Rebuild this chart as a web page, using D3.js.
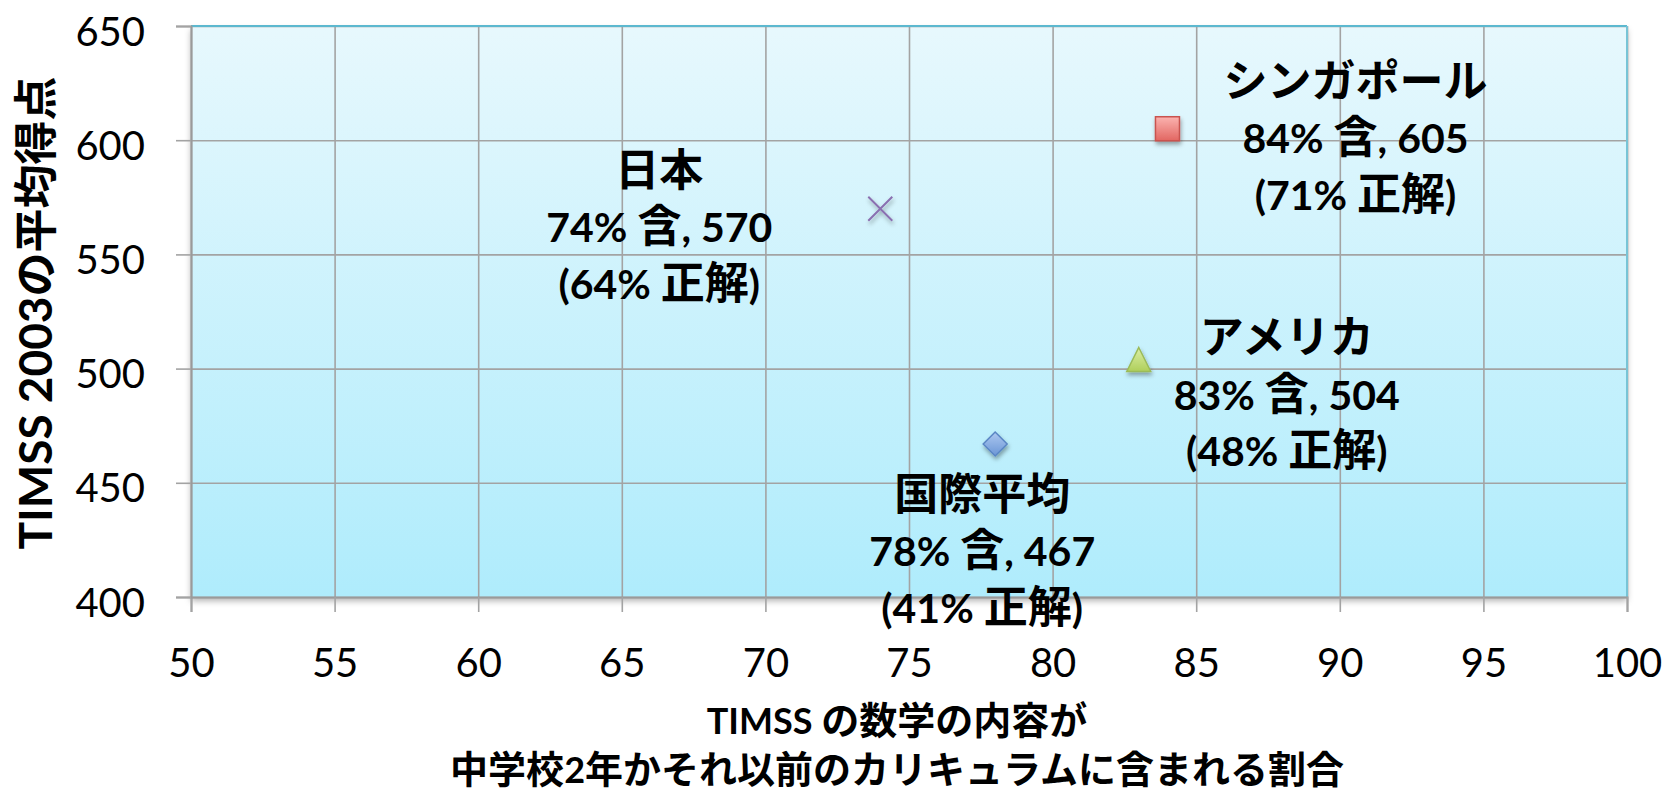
<!DOCTYPE html>
<html><head><meta charset="utf-8">
<script src="https://cdn.jsdelivr.net/npm/d3@7"></script>
<style>body{margin:0;background:#fff;overflow:hidden}</style>
</head><body>
<svg id="chart" width="1667" height="794"></svg>
<script>
// ---- data ----
const countries = ["国際平均", "アメリカ", "シンガポール", "日本"];
const coverage  = [78, 83, 84, 74];      // % of TIMSS content in curriculum
const scores    = [467, 504, 605, 570];  // TIMSS 2003 mean score
const correct   = [41, 48, 71, 64];      // % correct
const markers   = ["diamond", "triangle", "square", "times"];
const xTicks = [50, 55, 60, 65, 70, 75, 80, 85, 90, 95, 100];
const yTicks = [400, 450, 500, 550, 600, 650];
const xTitleLines = ["TIMSS の数学の内容が", "中学校2年かそれ以前のカリキュラムに含まれる割合"];
const yTitle = "TIMSS 2003の平均得点";

// ---- layout ----
const W = 1667, H = 794;
const M = {left: 191, right: 1667 - 1627, top: 26, bottom: 794 - 597};
const LATIN = "Lato, 'Noto Sans CJK JP', sans-serif";
const CJK = "'Noto Sans CJK JP', sans-serif";

const svg = d3.select("#chart");
const x = d3.scaleLinear().domain([50, 100]).range([M.left, W - M.right]);
const y = d3.scaleLinear().domain([400, 650]).range([H - M.bottom, M.top]);

const defs = svg.append("defs");
const bg = defs.append("linearGradient").attr("id", "bg").attr("x1", 0).attr("y1", 0).attr("x2", 0).attr("y2", 1);
bg.append("stop").attr("offset", "0%").attr("stop-color", "#e7f8fd");
bg.append("stop").attr("offset", "100%").attr("stop-color", "#afecfc");

const shadow = defs.append("filter").attr("id", "shadow").attr("x", "-20%").attr("y", "-20%").attr("width", "150%").attr("height", "160%");
shadow.append("feDropShadow").attr("dx", 1).attr("dy", 3).attr("stdDeviation", 2).attr("flood-color", "#000").attr("flood-opacity", 0.35);
const pshadow = defs.append("filter").attr("id", "pshadow").attr("x", "-5%").attr("y", "-5%").attr("width", "110%").attr("height", "115%");
pshadow.append("feDropShadow").attr("dx", 0).attr("dy", 4).attr("stdDeviation", 3).attr("flood-color", "#000").attr("flood-opacity", 0.3);

function grad(id, c1, c2) {
  const g = defs.append("linearGradient").attr("id", id).attr("x1", 0).attr("y1", 0).attr("x2", 0).attr("y2", 1);
  g.append("stop").attr("offset", "0%").attr("stop-color", c1);
  g.append("stop").attr("offset", "100%").attr("stop-color", c2);
}
grad("g-square", "#fbb3b0", "#e26661");
grad("g-diamond", "#adc8f0", "#6b96d6");
grad("g-triangle", "#dcefa6", "#afcf5b");

// plot background
svg.append("rect")
  .attr("x", x(50)).attr("y", y(650))
  .attr("width", x(100) - x(50)).attr("height", y(400) - y(650))
  .attr("fill", "url(#bg)").attr("filter", "url(#pshadow)");

// gridlines
const gx = svg.append("g").attr("transform", `translate(0,${y(400)})`)
  .call(d3.axisBottom(x).tickValues(xTicks).tickSize(-(y(400) - y(650))).tickFormat(""));
gx.select(".domain").remove();
gx.selectAll("line").attr("stroke", "#a3a3a3").attr("stroke-width", 1.6);
const gy = svg.append("g").attr("transform", `translate(${x(50)},0)`)
  .call(d3.axisLeft(y).tickValues(yTicks).tickSize(-(x(100) - x(50))).tickFormat(""));
gy.select(".domain").remove();
gy.selectAll("line").attr("stroke", "#a3a3a3").attr("stroke-width", 1.6);

// border top/right (cyan)
svg.append("line").attr("x1", x(50)).attr("x2", x(100)).attr("y1", y(650)).attr("y2", y(650))
  .attr("stroke", "#5cb8cf").attr("stroke-width", 2);
svg.append("line").attr("x1", x(100)).attr("x2", x(100)).attr("y1", y(650)).attr("y2", y(400))
  .attr("stroke", "#78c4d6").attr("stroke-width", 2);

// axes
const ax = svg.append("g").attr("transform", `translate(0,${y(400)})`)
  .call(d3.axisBottom(x).tickValues(xTicks).tickSize(15).tickFormat(d3.format("d")));
ax.select(".domain").attr("stroke", "#9a9a9a").attr("stroke-width", 2);
ax.selectAll(".tick line").attr("stroke", "#a3a3a3").attr("stroke-width", 1.6);
ax.selectAll(".tick text").attr("y", 80).attr("dy", 0)
  .attr("font-family", LATIN).attr("font-size", 40).attr("fill", "#000");

const ay = svg.append("g").attr("transform", `translate(${x(50)},0)`)
  .call(d3.axisLeft(y).tickValues(yTicks).tickSize(15).tickFormat(d3.format("d")));
ay.select(".domain").attr("stroke", "#9a9a9a").attr("stroke-width", 2);
ay.selectAll(".tick line").attr("stroke", "#a3a3a3").attr("stroke-width", 1.6);
ay.selectAll(".tick text").attr("x", -46).attr("dy", 0).attr("y", 19)
  .attr("font-family", LATIN).attr("font-size", 40).attr("fill", "#000");

// mixed-script text helper
const cjkRe = /[\u3000-\u9fff\uff00-\uffef]/;
function runs(sel, str, latinSize, cjkSize) {
  const parts = str.match(/[\u3000-\u9fff\uff00-\uffef]+|[^\u3000-\u9fff\uff00-\uffef]+/g);
  parts.forEach(p => {
    const isC = cjkRe.test(p);
    sel.append("tspan").text(p)
      .attr("font-family", isC ? CJK : LATIN)
      .attr("font-size", isC ? cjkSize : latinSize);
  });
}

// markers
function customSymbol(kind) {
  return {
    draw(ctx, size) {
      const r = Math.sqrt(size) / 2;
      if (kind === "diamond") {
        ctx.moveTo(0, -r); ctx.lineTo(r, 0); ctx.lineTo(0, r); ctx.lineTo(-r, 0); ctx.closePath();
      } else if (kind === "triangle") {
        ctx.moveTo(0, -r); ctx.lineTo(r, r); ctx.lineTo(-r, r); ctx.closePath();
      } else if (kind === "square") {
        ctx.moveTo(-r, -r); ctx.lineTo(r, -r); ctx.lineTo(r, r); ctx.lineTo(-r, r); ctx.closePath();
      } else {
        ctx.moveTo(-r, -r); ctx.lineTo(r, r); ctx.moveTo(r, -r); ctx.lineTo(-r, r);
      }
    }
  };
}
const style = {
  diamond:  {fill: "url(#g-diamond)", stroke: "#5a86c4", size: 24 * 24},
  triangle: {fill: "url(#g-triangle)", stroke: "#9bbb59", size: 24 * 24},
  square:   {fill: "url(#g-square)", stroke: "#c9534f", size: 24 * 24},
  times:    {fill: "none", stroke: "#8a6fb0", size: 24 * 24}
};
const idx = d3.range(countries.length);
svg.append("g").selectAll("path").data(idx).join("path")
  .attr("transform", i => `translate(${x(coverage[i])},${y(scores[i])})`)
  .attr("d", i => d3.symbol().type(customSymbol(markers[i])).size(style[markers[i]].size)())
  .attr("fill", i => style[markers[i]].fill)
  .attr("stroke", i => style[markers[i]].stroke)
  .attr("stroke-width", i => markers[i] === "times" ? 2 : 1.5)
  .attr("filter", "url(#shadow)");

// data labels (offsets from point)
const labelOffset = [
  {dx: -13, dy: 66},    // 国際平均
  {dx: 148, dy: -6},    // アメリカ
  {dx: 188, dy: -32},   // シンガポール
  {dx: -221, dy: -23}   // 日本
];
const lineH = 56.5;
idx.forEach(i => {
  const lines = [countries[i], `${coverage[i]}% 含, ${scores[i]}`, `(${correct[i]}% 正解)`];
  const cx = x(coverage[i]) + labelOffset[i].dx;
  const cy = y(scores[i]) + labelOffset[i].dy;
  const t = svg.append("text").attr("text-anchor", "middle")
    .attr("font-weight", "bold").attr("fill", "#000");
  lines.forEach((ln, k) => {
    const line = t.append("tspan").attr("x", cx).attr("y", cy + k * lineH);
    runs(line, ln, 41, 44);
  });
});

// axis titles
const xt = svg.append("text").attr("text-anchor", "middle").attr("font-weight", "bold").attr("fill", "#000");
xTitleLines.forEach((ln, k) => {
  const line = xt.append("tspan").attr("x", 897).attr("y", 734 + k * 49);
  runs(line, ln, 36, 38);
});
const yt = svg.append("text").attr("transform", "translate(52,313) rotate(-90)")
  .attr("text-anchor", "middle").attr("font-weight", "bold").attr("fill", "#000");
runs(yt, yTitle, 46, 44);
</script>
</body></html>
